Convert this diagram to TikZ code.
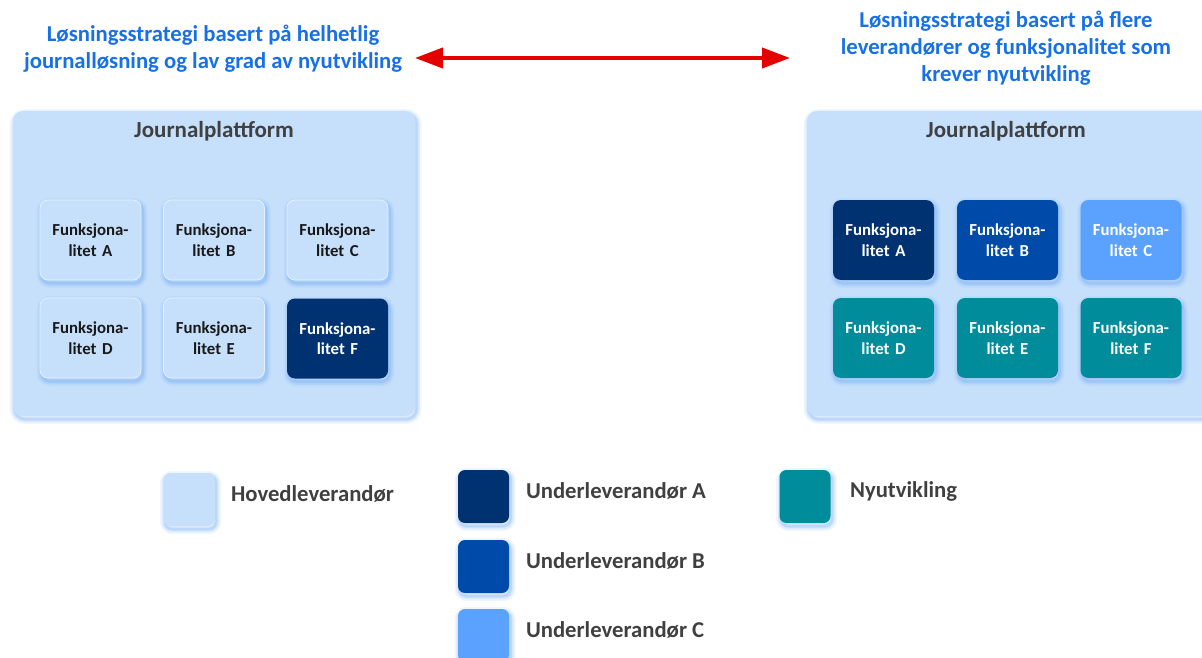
\documentclass[tikz,border=0pt]{standalone}
\usepackage{fontspec}
\setmainfont{Carlito}
\usetikzlibrary{arrows.meta}
\definecolor{titleblue}{HTML}{1670E6}
\definecolor{textgray}{HTML}{404040}
\definecolor{paleblue}{HTML}{C6E0FC}
\definecolor{navy}{HTML}{003271}
\definecolor{royal}{HTML}{004BAA}
\definecolor{sky}{HTML}{5AA2FE}
\definecolor{teal}{HTML}{008C9A}
\definecolor{glow}{HTML}{6FA8F2}
\tikzset{
  % soft bluish glow, offset a little down and to the right
  softshadow/.style={
    preaction={draw=glow,line width=10pt,opacity=0.10,transform canvas={xshift=1.5pt,yshift=-3pt}},
    preaction={draw=glow,line width=6.5pt,opacity=0.16,transform canvas={xshift=1.5pt,yshift=-3pt}},
    preaction={draw=glow,line width=3pt,opacity=0.28,transform canvas={xshift=1.5pt,yshift=-3pt}}},
  platform/.style={fill=paleblue,rounded corners=10pt,softshadow,inner sep=0pt},
  funcbox/.style={rounded corners=8pt,minimum width=101pt,minimum height=80pt,inner sep=0pt,
    text width=99pt,align=center,font=\bfseries\fontsize{16.8}{20.5}\selectfont,softshadow},
  lightbox/.style={funcbox,fill=paleblue,draw=white!55!paleblue,line width=0.7pt,text=black!90},
  darkbox/.style={funcbox,fill=#1,text=white},
  swatch/.style={rounded corners=7pt,minimum width=51pt,minimum height=53pt,inner sep=0pt,softshadow,fill=#1},
  legendtext/.style={anchor=west,text=textgray,font=\bfseries\fontsize{22.7}{27}\selectfont},
  heading/.style={text=titleblue,align=center,font=\bfseries\fontsize{22.7}{27}\selectfont},
  platformtitle/.style={text=textgray,font=\bfseries\fontsize{23}{27}\selectfont},
}
\begin{document}
\begin{tikzpicture}[x=1pt,y=-1pt]
\useasboundingbox (0,0) rectangle (1202,658);
\clip (0,0) rectangle (1202,658);

% headings and the double arrow between them
\node[heading] (hleft) at (213,48.5) {Løsningsstrategi basert på helhetlig\\journalløsning og lav grad av nyutvikling};
\node[heading] (hright) at (1006,48) {Løsningsstrategi basert på flere\\leverandører og funksjonalitet som\\krever nyutvikling};
\coordinate (aleft) at (415,58);
\coordinate (aright) at (790,58);
\draw[red!90!black,line width=4pt,{Triangle[length=28pt,width=20pt]}-{Triangle[length=28pt,width=20pt]}] (aleft) -- (aright);

% left platform
\node[platform,minimum width=402pt,minimum height=305pt] (lplat) at (214,263.5) {};
\node[platformtitle] (pl) at (214,131) {Journalplattform};
\node[lightbox] (la) at (90.5,240) {Funksjona-\\litet A};
\node[lightbox] (lb) at (214,240) {Funksjona-\\litet B};
\node[lightbox] (lc) at (337.5,240) {Funksjona-\\litet C};
\node[lightbox] (ld) at (90.5,338) {Funksjona-\\litet D};
\node[lightbox] (le) at (214,338) {Funksjona-\\litet E};
\node[darkbox=navy] (lf) at (337.5,338.5) {Funksjona-\\litet F};

% right platform, running past the right edge
\node[platform,minimum width=413pt,minimum height=305pt] (rplat) at (1013.5,263.5) {};
\node[platformtitle] (pr) at (1006,131) {Journalplattform};
\node[darkbox=navy] (ra) at (883.5,240) {Funksjona-\\litet A};
\node[darkbox=royal] (rb) at (1007.5,240) {Funksjona-\\litet B};
\node[darkbox=sky] (rc) at (1131,240) {Funksjona-\\litet C};
\node[darkbox=teal] (rd) at (883.5,338) {Funksjona-\\litet D};
\node[darkbox=teal] (re) at (1007.5,338) {Funksjona-\\litet E};
\node[darkbox=teal] (rf) at (1131,338) {Funksjona-\\litet F};

% legend
\node[swatch=paleblue] (s1) at (189,499.5) {};
\node[legendtext] (t1) at (227.5,494) {Hovedleverandør};
\node[swatch=navy] (s2) at (483.5,496.5) {};
\node[legendtext] (t2) at (522.5,491) {Underleverandør A};
\node[swatch=royal] (s3) at (483.5,566.5) {};
\node[legendtext] (t3) at (522.5,561) {Underleverandør B};
\node[swatch=sky] (s4) at (483.5,635.5) {};
\node[legendtext] (t4) at (522.5,630) {Underleverandør C};
\node[swatch=teal] (s5) at (805,496.5) {};
\node[legendtext] (t5) at (846.5,491) {Nyutvikling};
\end{tikzpicture}
\end{document}
